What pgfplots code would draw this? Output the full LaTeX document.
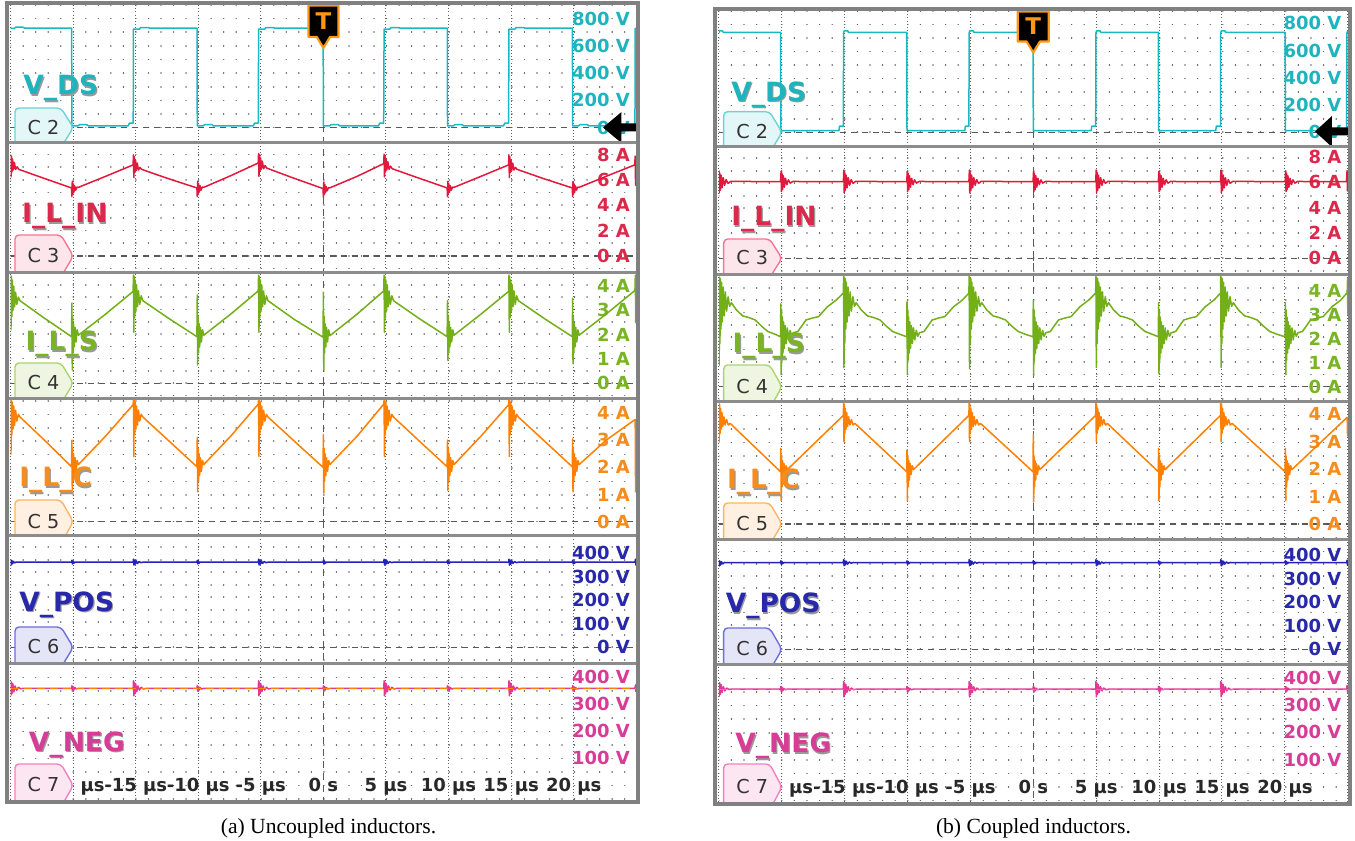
\documentclass[border=0pt]{standalone}
\usepackage{fontspec}
\setmainfont{Liberation Serif}
\newfontfamily\dv{DejaVu Sans}
\usepackage{pgfplots}
\pgfplotsset{compat=1.18}

\definecolor{c2}{RGB}{25,185,195}\definecolor{c2t}{RGB}{30,180,190}\definecolor{c2f}{RGB}{228,247,248}\definecolor{c2b}{RGB}{110,210,215}
\definecolor{c3}{RGB}{225,25,60}\definecolor{c3t}{RGB}{220,40,75}\definecolor{c3f}{RGB}{253,230,235}\definecolor{c3b}{RGB}{240,120,145}
\definecolor{c4}{RGB}{115,175,25}\definecolor{c4t}{RGB}{120,180,35}\definecolor{c4f}{RGB}{238,246,225}\definecolor{c4b}{RGB}{170,212,110}
\definecolor{c5}{RGB}{255,128,0}\definecolor{c5t}{RGB}{245,140,30}\definecolor{c5f}{RGB}{255,240,225}\definecolor{c5b}{RGB}{255,180,100}
\definecolor{c6}{RGB}{35,35,185}\definecolor{c6t}{RGB}{40,40,170}\definecolor{c6f}{RGB}{228,230,248}\definecolor{c6b}{RGB}{110,110,215}
\definecolor{c7}{RGB}{228,55,150}\definecolor{c7t}{RGB}{215,60,150}\definecolor{c7f}{RGB}{252,230,242}\definecolor{c7b}{RGB}{240,130,195}
\definecolor{tgold}{RGB}{255,150,20}\definecolor{xlab}{RGB}{40,40,40}

\newcommand\tickfont{\dv\bfseries\fontsize{9bp}{10bp}\selectfont}
\newcommand\namefont{\dv\bfseries\fontsize{13.25bp}{15bp}\selectfont}
\newcommand\badgefont{\dv\fontsize{9.6bp}{11bp}\selectfont}
\newcommand\capfont{\fontsize{10.8bp}{12bp}\selectfont}
\newcommand\tfont{\dv\bfseries\fontsize{11.5bp}{12bp}\selectfont}

\tikzset{
  dotA/.style={draw=black!60, line width=0.8bp, line cap=round, dash pattern=on 0.01pt off 6.256bp},
  dotB/.style={draw=black!60, line width=0.8bp, line cap=round, dash pattern=on 0.01pt off 6.29bp},
  vgrid/.style={draw=black!62, line width=0.5bp, dash pattern=on 0.5bp off 1.1bp},
  cgrid/.style={draw=black!65, line width=0.6bp, dash pattern=on 3.5bp off 2.5bp},
  zgrid/.style={draw=black!65, line width=0.6bp, dash pattern=on 3bp off 2.5bp},
}
\pgfplotsset{
  strip/.style={scale only axis, anchor=north west, xmin=-25, xmax=25,
    axis line style={draw=none}, major tick length=0pt, tick style={draw=none},
    xtick=\empty, scaled ticks=false, yticklabel pos=right,
    yticklabel style={font=\tickfont, anchor=east, inner sep=0pt, xshift=-3bp},
    clip=true, every axis plot/.append style={line width=0.75bp, line join=round}},
}
% grid rows of one strip: x0 x1 top bottom zero spacing style
\newcommand\gridstrip[7]{%
  \begin{scope}
    \clip (#1,#3) rectangle (#2,#4);
    \foreach \k in {-3,...,11}{\draw[#7] (#1,{#5-(\k)*#6}) -- (#2,{#5-(\k)*#6});}
    \draw[zgrid] (#1,#5) -- (#2,#5);
  \end{scope}}
\newcommand\chname[4]{%
  \node[anchor=base west, inner sep=0pt, font=\namefont, text=black!40] at (#1+1.2,#2+1.2) {#3};
  \node[anchor=base west, inner sep=0pt, font=\namefont, text=#4] at (#1,#2) {#3};}
\newcommand\badge[7]{% col fill xl ytop ytip ybot text
  \pgfmathsetmacro\bxr{#3+46}\pgfmathsetmacro\bxt{#3+58.3}%
  \pgfmathsetmacro\bxb{#3+58.3-12.3*(#6+1-#5)/(#5-#4)}%
  \filldraw[draw=#1, fill=#2, line width=0.7bp, rounded corners=2bp]
    (#3,#6+1) -- (#3,#4) -- (\bxr,#4) -- (\bxt,#5) -- (\bxb,#6+1);
  \node[font=\badgefont, text=black!80, inner sep=0pt] at (#3+28.5,#5-0.5) {#7};}

\begin{document}
\begin{tikzpicture}
\path[use as bounding box] (0,0) rectangle (677.5bp,-420.5bp);

% ---------------- background grids (pixel units) ----------------
\begin{scope}[x=0.5bp,y=-0.5bp]
  \gridstrip{10.6}{636.2}{5}{141.5}{127.7}{13.65}{dotA}
  \gridstrip{10.6}{636.2}{144.5}{271.5}{256}{12.7}{dotA}
  \gridstrip{10.6}{636.2}{274.5}{397.5}{383.3}{12.3}{dotA}
  \gridstrip{10.6}{636.2}{400.5}{534.5}{521.7}{13.4}{dotA}
  \gridstrip{10.6}{636.2}{537.5}{662.5}{647.3}{12.5}{dotA}
  \begin{scope}\clip (10.6,665.5) rectangle (636.2,800.5);
    \foreach \k in {-2,...,11}{\draw[dotA] (10.6,{785.5-(\k)*13.5}) -- (636.2,{785.5-(\k)*13.5});}
  \end{scope}
  \foreach \k in {0,1,2,3,4,6,7,8,9,10}{\draw[vgrid] ({10.6+\k*62.56},5) -- ({10.6+\k*62.56},800.5);}
  \draw[cgrid] (323.4,5) -- (323.4,800.5);
  \foreach \z in {127.7,256,383.3,521.7,647.3}{\draw[black!65, line width=0.6bp] (323.4,\z-3) -- (323.4,\z+3);}

  \gridstrip{718.8}{1347.8}{11}{145.5}{132.3}{13.45}{dotB}
  \gridstrip{718.8}{1347.8}{148.5}{273.5}{258.3}{12.5}{dotB}
  \gridstrip{718.8}{1347.8}{276.5}{400}{386.7}{12.35}{dotB}
  \gridstrip{718.8}{1347.8}{403}{538.5}{524}{13.55}{dotB}
  \gridstrip{718.8}{1347.8}{541.5}{663.5}{649.3}{12.2}{dotB}
  \begin{scope}\clip (718.8,666.5) rectangle (1347.8,802);
    \foreach \k in {-2,...,11}{\draw[dotB] (718.8,{787-(\k)*13.55}) -- (1347.8,{787-(\k)*13.55});}
  \end{scope}
  \foreach \k in {0,1,2,3,4,6,7,8,9,10}{\draw[vgrid] ({718.8+\k*62.9},11) -- ({718.8+\k*62.9},802);}
  \draw[cgrid] (1033.3,11) -- (1033.3,802);
  \foreach \z in {132.3,258.3,386.7,524,649.3}{\draw[black!65, line width=0.6bp] (1033.3,\z-3) -- (1033.3,\z+3);}
\end{scope}

% ================= PANEL A (uncoupled) =================
\begin{axis}[strip, at={(5.3bp,-2.5bp)}, width=312.8bp, height=68.25bp, ymin=-101.1, ymax=898.9,
  ytick={0,200,400,600,800}, yticklabels={0 V,200 V,400 V,600 V,800 V}, yticklabel style={text=c2t}]
\addplot[c2] coordinates {(-25,730) (-24.7,726) (-24.6,736) (-24.0,736) (-23.9,730) (-20.12,730) (-20.1,14) (-19.6,14) (-19.5,22) (-18.9,22) (-18.8,14) (-15.6,14) (-15.5,34) (-15.2,34) (-15.18,722) (-14.7,722) (-14.6,734) (-14.0,734) (-13.9,730) (-10.1,730) (-10.08,14) (-9.6,14) (-9.5,22) (-8.9,22) (-8.8,14) (-5.6,14) (-5.5,34) (-5.2,34) (-5.18,722) (-4.7,722) (-4.6,734) (-4.0,734) (-3.9,730) (-0.02,730) (0,14) (0.5,14) (0.6,22) (1.2,22) (1.3,14) (4.4,14) (4.5,34) (4.82,34) (4.85,722) (5.3,722) (5.4,734) (6.0,734) (6.1,730) (9.9,730) (9.92,14) (10.4,14) (10.5,22) (11.1,22) (11.2,14) (14.4,14) (14.5,34) (14.8,34) (14.83,722) (15.3,722) (15.4,734) (16.0,734) (16.1,730) (19.9,730) (19.92,14) (20.4,14) (20.5,22) (21.1,22) (21.2,14) (24.9,14) (24.92,728) (25,728)};
\end{axis}

\begin{axis}[strip, at={(5.3bp,-72.25bp)}, width=312.8bp, height=63.5bp, ymin=-1.225, ymax=8.814,
  ytick={0,2,4,6,8}, yticklabels={0 A,2 A,4 A,6 A,8 A}, yticklabel style={text=c3t}]
\addplot[c3] coordinates {(-25,8.0) (-24.97,6.25) (-24.93,7.9) (-24.89,6.65) (-24.84,7.65) (-24.78,6.8) (-24.7,7.4) (-24.6,6.85) (-24.48,7.05) (-24.35,6.85) (-22.5,6.2) (-20.13,5.38)
(-20.1,4.7) (-20.07,5.9) (-20.03,4.9) (-19.99,5.7) (-19.94,5.05) (-19.88,5.55) (-19.8,5.2) (-19.7,5.45) (-19.6,5.42) (-17.4,6.3) (-15.21,7.2)
(-15.18,8.0) (-15.15,6.2) (-15.11,7.85) (-15.07,6.6) (-15.02,7.6) (-14.96,6.75) (-14.88,7.35) (-14.78,6.8) (-14.66,7.0) (-14.53,6.85) (-12.5,6.15) (-10.11,5.38)
(-10.08,4.7) (-10.05,5.9) (-10.01,4.9) (-9.97,5.7) (-9.92,5.05) (-9.86,5.55) (-9.78,5.2) (-9.68,5.45) (-9.58,5.42) (-7.4,6.35) (-5.21,7.35)
(-5.18,8.1) (-5.15,6.3) (-5.11,8.0) (-5.07,6.7) (-5.02,7.75) (-4.96,6.85) (-4.88,7.5) (-4.78,6.9) (-4.66,7.15) (-4.53,6.95) (-2.5,6.2) (-0.03,5.33)
(0,4.65) (0.03,5.85) (0.07,4.85) (0.11,5.65) (0.16,5.0) (0.22,5.5) (0.3,5.15) (0.4,5.4) (0.5,5.38) (2.7,6.3) (4.82,7.3)
(4.85,8.05) (4.88,6.25) (4.92,7.95) (4.96,6.65) (5.01,7.7) (5.07,6.8) (5.15,7.45) (5.25,6.85) (5.37,7.1) (5.5,6.9) (7.5,6.2) (9.89,5.38)
(9.92,4.7) (9.95,5.9) (9.99,4.9) (10.03,5.7) (10.08,5.05) (10.14,5.55) (10.22,5.2) (10.32,5.45) (10.42,5.42) (12.6,6.3) (14.8,7.2)
(14.83,8.0) (14.86,6.2) (14.9,7.85) (14.94,6.6) (14.99,7.6) (15.05,6.75) (15.13,7.35) (15.23,6.8) (15.35,7.0) (15.48,6.85) (17.5,6.15) (19.89,5.38)
(19.92,4.7) (19.95,5.9) (19.99,4.9) (20.03,5.7) (20.08,5.05) (20.14,5.55) (20.22,5.2) (20.32,5.45) (20.42,5.42) (22.6,6.3) (24.88,7.2) (24.92,7.9) (24.95,5.6) (25,6.6)};
\end{axis}

\begin{axis}[strip, at={(5.3bp,-137.25bp)}, width=312.8bp, height=61.5bp, ymin=-0.584, ymax=4.477,
  ytick={0,1,2,3,4}, yticklabels={0 A,1 A,2 A,3 A,4 A}, yticklabel style={text=c4t}]
\addplot[c4] coordinates {(-25,4.45) (-24.97,2.2) (-24.94,4.4) (-24.9,2.75) (-24.86,4.25) (-24.81,3.0) (-24.75,4.0) (-24.68,3.15) (-24.6,3.75) (-24.5,3.25) (-24.38,3.55) (-24.25,3.4) (-22.3,2.68) (-20.13,1.92)
(-20.1,3.3) (-20.07,0.55) (-20.04,2.75) (-20.0,1.25) (-19.96,2.45) (-19.91,1.5) (-19.85,2.3) (-19.77,1.7) (-19.68,2.2) (-19.58,1.98) (-17.4,2.85) (-15.21,3.78)
(-15.18,4.45) (-15.15,2.1) (-15.12,4.4) (-15.08,2.7) (-15.04,4.25) (-14.99,2.95) (-14.93,4.05) (-14.86,3.15) (-14.78,3.8) (-14.68,3.25) (-14.56,3.6) (-14.43,3.4) (-12.3,2.65) (-10.11,1.92)
(-10.08,3.64) (-10.05,0.75) (-10.02,2.75) (-9.98,1.25) (-9.94,2.45) (-9.89,1.5) (-9.83,2.3) (-9.75,1.7) (-9.66,2.2) (-9.56,1.98) (-7.4,2.85) (-5.21,3.8)
(-5.18,4.45) (-5.15,2.1) (-5.12,4.4) (-5.08,2.7) (-5.04,4.25) (-4.99,2.95) (-4.93,4.05) (-4.86,3.15) (-4.78,3.8) (-4.68,3.25) (-4.56,3.6) (-4.43,3.4) (-2.3,2.62) (-0.03,1.9)
(0,3.75) (0.03,0.55) (0.06,2.75) (0.1,1.25) (0.14,2.45) (0.19,1.5) (0.25,2.3) (0.33,1.7) (0.42,2.2) (0.52,1.96) (2.7,2.85) (4.82,3.8)
(4.85,4.45) (4.88,2.1) (4.91,4.4) (4.95,2.7) (4.99,4.25) (5.04,2.95) (5.1,4.05) (5.17,3.15) (5.25,3.8) (5.35,3.25) (5.47,3.6) (5.6,3.4) (7.7,2.65) (9.89,1.92)
(9.92,3.4) (9.95,0.95) (9.98,2.75) (10.02,1.25) (10.06,2.45) (10.11,1.5) (10.17,2.3) (10.25,1.7) (10.34,2.2) (10.44,1.98) (12.6,2.85) (14.8,3.78)
(14.83,4.45) (14.86,2.1) (14.89,4.4) (14.93,2.7) (14.97,4.25) (15.02,2.95) (15.08,4.05) (15.15,3.15) (15.23,3.8) (15.33,3.25) (15.45,3.6) (15.58,3.4) (17.7,2.65) (19.89,1.92)
(19.92,3.5) (19.95,0.8) (19.98,2.75) (20.02,1.25) (20.06,2.45) (20.11,1.5) (20.17,2.3) (20.25,1.7) (20.34,2.2) (20.44,1.98) (22.6,2.85) (24.9,3.82) (24.93,4.45) (24.96,2.5) (25,3.9)};
\end{axis}

\begin{axis}[strip, at={(5.3bp,-200.25bp)}, width=312.8bp, height=67bp, ymin=-0.471, ymax=4.456,
  ytick={0,1,2,3,4}, yticklabels={0 A,1 A,2 A,3 A,4 A}, yticklabel style={text=c5t}]
\addplot[c5] coordinates {(-25,4.47) (-24.97,2.5) (-24.94,4.45) (-24.9,3.2) (-24.86,4.4) (-24.81,3.4) (-24.75,4.25) (-24.68,3.55) (-24.6,4.1) (-24.5,3.7) (-24.38,3.95) (-24.25,3.85) (-22.3,3.0) (-20.13,2.02)
(-20.1,3.0) (-20.07,1.15) (-20.04,2.7) (-20.0,1.5) (-19.96,2.5) (-19.91,1.7) (-19.85,2.35) (-19.77,1.85) (-19.68,2.25) (-19.58,2.1) (-17.4,3.15) (-15.21,4.3)
(-15.18,4.47) (-15.15,2.4) (-15.12,4.45) (-15.08,3.2) (-15.04,4.4) (-14.99,3.4) (-14.93,4.25) (-14.86,3.55) (-14.78,4.1) (-14.68,3.7) (-14.56,3.95) (-14.43,3.85) (-12.3,2.95) (-10.11,2.02)
(-10.08,3.1) (-10.05,1.1) (-10.02,2.7) (-9.98,1.5) (-9.94,2.5) (-9.89,1.7) (-9.83,2.35) (-9.75,1.85) (-9.66,2.25) (-9.56,2.1) (-7.4,3.15) (-5.21,4.32)
(-5.18,4.47) (-5.15,2.4) (-5.12,4.45) (-5.08,3.2) (-5.04,4.4) (-4.99,3.4) (-4.93,4.25) (-4.86,3.55) (-4.78,4.1) (-4.68,3.7) (-4.56,3.95) (-4.43,3.85) (-2.3,2.95) (-0.03,2.0)
(0,3.2) (0.03,1.05) (0.06,2.7) (0.1,1.5) (0.14,2.5) (0.19,1.7) (0.25,2.35) (0.33,1.85) (0.42,2.25) (0.52,2.1) (2.7,3.15) (4.82,4.32)
(4.85,4.47) (4.88,2.4) (4.91,4.45) (4.95,3.2) (4.99,4.4) (5.04,3.4) (5.1,4.25) (5.17,3.55) (5.25,4.1) (5.35,3.7) (5.47,3.95) (5.6,3.85) (7.7,2.95) (9.89,2.02)
(9.92,3.0) (9.95,1.15) (9.98,2.7) (10.02,1.5) (10.06,2.5) (10.11,1.7) (10.17,2.35) (10.25,1.85) (10.34,2.25) (10.44,2.1) (12.6,3.15) (14.8,4.3)
(14.83,4.47) (14.86,2.4) (14.89,4.45) (14.93,3.2) (14.97,4.4) (15.02,3.4) (15.08,4.25) (15.15,3.55) (15.23,4.1) (15.33,3.7) (15.45,3.95) (15.58,3.85) (17.7,2.95) (19.89,2.02)
(19.92,3.05) (19.95,1.1) (19.98,2.7) (20.02,1.5) (20.06,2.5) (20.11,1.7) (20.17,2.35) (20.25,1.85) (20.34,2.25) (20.44,2.1) (22.6,3.0) (24.92,3.76) (24.95,1.1) (24.98,3.5) (25,3.7)};
\end{axis}

\begin{axis}[strip, at={(5.3bp,-268.75bp)}, width=312.8bp, height=62.5bp, ymin=-64.7, ymax=467.2,
  ytick={0,100,200,300,400}, yticklabels={0 V,100 V,200 V,300 V,400 V}, yticklabel style={text=c6t}]
\addplot[c6] coordinates {(-25,372) (-24.96,350) (-24.91,370) (-24.85,355) (-24.78,366) (-24.68,359) (-24.55,363) (-24.4,362) (-20.12,362)
(-20.1,370) (-20.06,355) (-20.01,367) (-19.95,358) (-19.85,363) (-19.7,362) (-15.2,362)
(-15.18,375) (-15.14,350) (-15.09,371) (-15.03,354) (-14.96,368) (-14.86,357) (-14.73,365) (-14.58,360) (-14.4,363) (-14.2,362) (-10.1,362)
(-10.08,370) (-10.04,355) (-9.99,367) (-9.93,358) (-9.83,363) (-9.68,362) (-5.2,362)
(-5.18,375) (-5.14,350) (-5.09,371) (-5.03,354) (-4.96,368) (-4.86,357) (-4.73,365) (-4.58,360) (-4.4,363) (-4.2,362) (-0.02,362)
(0,371) (0.04,354) (0.09,367) (0.15,358) (0.25,363) (0.4,362) (4.83,362)
(4.85,375) (4.89,350) (4.94,371) (5.0,354) (5.07,368) (5.17,357) (5.3,365) (5.45,360) (5.63,363) (5.83,362) (9.9,362)
(9.92,370) (9.96,355) (10.01,367) (10.07,358) (10.17,363) (10.32,362) (14.81,362)
(14.83,375) (14.87,350) (14.92,371) (14.98,354) (15.05,368) (15.15,357) (15.28,365) (15.43,360) (15.61,363) (15.81,362) (19.9,362)
(19.92,370) (19.96,355) (20.01,367) (20.07,358) (20.17,363) (20.32,362) (24.9,362) (24.95,375) (24.98,350) (25,366)};
\end{axis}

\begin{axis}[strip, at={(5.3bp,-332.75bp)}, width=312.8bp, height=67.5bp, ymin=-55.1, ymax=441.2,
  ytick={100,200,300,400}, yticklabels={100 V,200 V,300 V,400 V}, yticklabel style={text=c7t},
  xtick={-20,-15,-10,-5,0,5,10,15,20},
  xticklabels={\phantom{-20 }μs,-15 μs,-10 μs,-5 μs,0 s,5 μs,10 μs,15 μs,20 μs},
  xticklabel style={font=\tickfont, text=xlab, anchor=base, inner sep=0pt, yshift=4.7bp}]
\addplot[c7] coordinates {(-25,384) (-24.97,332) (-24.93,380) (-24.88,338) (-24.82,374) (-24.74,344) (-24.64,366) (-24.52,350) (-24.38,361) (-24.2,356) (-24.0,357) (-20.12,357)
(-20.1,367) (-20.06,347) (-20.01,364) (-19.95,351) (-19.87,360) (-19.75,355) (-19.6,357) (-15.2,357)
(-15.18,385) (-15.15,330) (-15.11,380) (-15.06,338) (-15.0,374) (-14.92,345) (-14.82,366) (-14.7,351) (-14.56,361) (-14.38,355) (-14.18,357) (-10.1,357)
(-10.08,367) (-10.04,347) (-9.99,364) (-9.93,351) (-9.85,360) (-9.73,355) (-9.58,357) (-5.2,357)
(-5.18,385) (-5.15,330) (-5.11,380) (-5.06,338) (-5.0,374) (-4.92,345) (-4.82,366) (-4.7,351) (-4.56,361) (-4.38,355) (-4.18,357) (-0.02,357)
(0,367) (0.04,347) (0.09,364) (0.15,351) (0.23,360) (0.35,355) (0.5,357) (4.83,357)
(4.85,385) (4.88,330) (4.92,380) (4.97,338) (5.03,374) (5.11,345) (5.21,366) (5.33,351) (5.47,361) (5.65,355) (5.85,357) (9.9,357)
(9.92,367) (9.96,347) (10.01,364) (10.07,351) (10.15,360) (10.27,355) (10.42,357) (14.81,357)
(14.83,385) (14.86,330) (14.9,380) (14.95,338) (15.01,374) (15.09,345) (15.19,366) (15.31,351) (15.45,361) (15.63,355) (15.83,357) (19.9,357)
(19.92,367) (19.96,347) (20.01,364) (20.07,351) (20.15,360) (20.27,355) (20.42,357) (24.9,357) (24.95,370) (24.98,345) (25,360)};
\addplot[c5, line width=0.6bp, dash pattern=on 4bp off 2.5bp] coordinates {(-25,357) (25,357)};
\end{axis}

% ================= PANEL B (coupled) =================
\begin{axis}[strip, at={(359.4bp,-5.5bp)}, width=314.5bp, height=67.25bp, ymin=-96.9, ymax=890.3,
  ytick={0,200,400,600,800}, yticklabels={0 V,200 V,400 V,600 V,800 V}, yticklabel style={text=c2t}]
\addplot[c2] coordinates {(-25,728) (-24.95,744) (-24.7,744) (-24.65,734) (-20.09,734) (-20.07,12) (-15.45,12) (-15.4,45) (-15.1,45) (-15.08,730) (-15.03,745) (-14.75,745) (-14.7,734) (-10.06,734) (-10.04,12) (-5.45,12) (-5.4,45) (-5.12,45) (-5.1,730) (-5.05,745) (-4.77,745) (-4.72,734) (-0.02,734) (0,12) (4.6,12) (4.65,45) (4.96,45) (4.98,730) (5.03,745) (5.31,745) (5.36,734) (9.94,734) (9.96,12) (14.5,12) (14.55,45) (14.88,45) (14.9,730) (14.95,745) (15.23,745) (15.28,734) (20.02,734) (20.04,12) (24.9,12) (24.93,730) (25,745)};
\end{axis}

\begin{axis}[strip, at={(359.4bp,-74.25bp)}, width=314.5bp, height=62.5bp, ymin=-1.197, ymax=8.646,
  ytick={0,2,4,6,8}, yticklabels={0 A,2 A,4 A,6 A,8 A}, yticklabel style={text=c3t}]
\addplot[c3] coordinates {(-25,6.9) (-24.97,5.15) (-24.93,6.75) (-24.88,5.35) (-24.82,6.55) (-24.74,5.55) (-24.65,6.35) (-24.54,5.75) (-24.42,6.2) (-24.27,5.9) (-24.05,6.06) (-20.09,6.03)
(-20.05,6.85) (-20.02,5.25) (-19.98,6.7) (-19.93,5.4) (-19.87,6.5) (-19.79,5.6) (-19.7,6.3) (-19.59,5.8) (-19.47,6.18) (-19.32,5.92) (-19.12,6.05) (-15.1,6.03)
(-15.06,6.95) (-15.03,5.15) (-14.99,6.75) (-14.94,5.35) (-14.88,6.55) (-14.8,5.55) (-14.71,6.35) (-14.6,5.75) (-14.48,6.2) (-14.33,5.9) (-14.13,6.06) (-10.06,6.03)
(-10.02,6.85) (-9.99,5.25) (-9.95,6.7) (-9.9,5.4) (-9.84,6.5) (-9.76,5.6) (-9.67,6.3) (-9.56,5.8) (-9.44,6.18) (-9.29,5.92) (-9.09,6.05) (-5.12,6.03)
(-5.08,6.95) (-5.05,5.15) (-5.01,6.75) (-4.96,5.35) (-4.9,6.55) (-4.82,5.55) (-4.73,6.35) (-4.62,5.75) (-4.5,6.2) (-4.35,5.9) (-4.15,6.06) (-0.02,6.03)
(0.02,6.85) (0.05,5.25) (0.09,6.7) (0.14,5.4) (0.2,6.5) (0.28,5.6) (0.37,6.3) (0.48,5.8) (0.6,6.18) (0.75,5.92) (0.95,6.05) (4.96,6.03)
(5.0,6.95) (5.03,5.15) (5.07,6.75) (5.12,5.35) (5.18,6.55) (5.26,5.55) (5.35,6.35) (5.46,5.75) (5.58,6.2) (5.73,5.9) (5.93,6.06) (9.94,6.03)
(9.98,6.85) (10.01,5.25) (10.05,6.7) (10.1,5.4) (10.16,6.5) (10.24,5.6) (10.33,6.3) (10.44,5.8) (10.56,6.18) (10.71,5.92) (10.91,6.05) (14.88,6.03)
(14.92,6.95) (14.95,5.15) (14.99,6.75) (15.04,5.35) (15.1,6.55) (15.18,5.55) (15.27,6.35) (15.38,5.75) (15.5,6.2) (15.65,5.9) (15.85,6.06) (20.02,6.03)
(20.06,6.85) (20.09,5.25) (20.13,6.7) (20.18,5.4) (20.24,6.5) (20.32,5.6) (20.41,6.3) (20.52,5.8) (20.64,6.18) (20.79,5.92) (20.99,6.05) (24.9,6.03) (24.94,6.9) (24.97,5.3) (25,6.5)};
\end{axis}

\begin{axis}[strip, at={(359.4bp,-138.25bp)}, width=314.5bp, height=61.75bp, ymin=-0.554, ymax=4.592,
  ytick={0,1,2,3,4}, yticklabels={0 A,1 A,2 A,3 A,4 A}, yticklabel style={text=c4t}]
\addplot[c4] coordinates {(-25,4.6) (-24.97,0.9) (-24.94,4.55) (-24.91,1.8) (-24.87,4.5) (-24.83,2.4) (-24.78,4.35) (-24.72,2.7) (-24.65,4.15) (-24.57,2.95) (-24.48,3.95) (-24.38,3.15) (-24.26,3.75) (-24.14,3.35) (-24.0,3.5) (-23.6,3.2) (-23.1,2.95) (-22.6,2.88) (-22.1,2.78) (-21.6,2.52) (-21.1,2.3) (-20.5,2.18) (-20.09,2.08)
(-20.07,3.45) (-20.04,0.5) (-20.01,3.2) (-19.98,1.1) (-19.94,2.9) (-19.9,1.4) (-19.85,2.7) (-19.79,1.6) (-19.72,2.55) (-19.64,1.8) (-19.55,2.45) (-19.45,1.95) (-19.33,2.35) (-19.21,2.1) (-19.07,2.25) (-18.72,2.3) (-18.07,2.78) (-17.57,2.86) (-17.07,2.92) (-16.37,3.33) (-15.67,3.61) (-15.1,3.9)
(-15.08,4.6) (-15.05,0.8) (-15.02,4.55) (-14.99,1.8) (-14.95,4.5) (-14.91,2.4) (-14.86,4.35) (-14.8,2.7) (-14.73,4.15) (-14.65,2.95) (-14.56,3.95) (-14.46,3.15) (-14.34,3.75) (-14.22,3.35) (-14.08,3.5) (-13.68,3.2) (-13.18,2.95) (-12.68,2.88) (-12.18,2.78) (-11.68,2.52) (-11.18,2.3) (-10.58,2.18) (-10.06,2.08)
(-10.04,3.55) (-10.01,0.5) (-9.98,3.2) (-9.95,1.1) (-9.91,2.9) (-9.87,1.4) (-9.82,2.7) (-9.76,1.6) (-9.69,2.55) (-9.61,1.8) (-9.52,2.45) (-9.42,1.95) (-9.3,2.35) (-9.18,2.1) (-9.04,2.25) (-8.69,2.3) (-8.04,2.78) (-7.54,2.86) (-7.04,2.92) (-6.34,3.33) (-5.64,3.61) (-5.12,3.9)
(-5.1,4.6) (-5.07,0.75) (-5.04,4.55) (-5.01,1.8) (-4.97,4.5) (-4.93,2.4) (-4.88,4.35) (-4.82,2.7) (-4.75,4.15) (-4.67,2.95) (-4.58,3.95) (-4.48,3.15) (-4.36,3.75) (-4.24,3.35) (-4.1,3.5) (-3.7,3.2) (-3.2,2.95) (-2.7,2.88) (-2.2,2.78) (-1.7,2.52) (-1.2,2.3) (-0.6,2.18) (-0.02,2.08)
(0,3.6) (0.03,0.45) (0.06,3.2) (0.09,1.1) (0.13,2.9) (0.17,1.4) (0.22,2.7) (0.28,1.6) (0.35,2.55) (0.43,1.8) (0.52,2.45) (0.62,1.95) (0.74,2.35) (0.86,2.1) (1.0,2.25) (1.35,2.3) (2.0,2.78) (2.5,2.86) (3.0,2.92) (3.7,3.33) (4.4,3.61) (4.96,3.9)
(4.98,4.6) (5.01,0.8) (5.04,4.55) (5.07,1.8) (5.11,4.5) (5.15,2.4) (5.2,4.35) (5.26,2.7) (5.33,4.15) (5.41,2.95) (5.5,3.95) (5.6,3.15) (5.72,3.75) (5.84,3.35) (5.98,3.5) (6.38,3.2) (6.88,2.95) (7.38,2.88) (7.88,2.78) (8.38,2.52) (8.88,2.3) (9.48,2.18) (9.94,2.08)
(9.96,3.5) (9.99,0.55) (10.02,3.2) (10.05,1.1) (10.09,2.9) (10.13,1.4) (10.18,2.7) (10.24,1.6) (10.31,2.55) (10.39,1.8) (10.48,2.45) (10.58,1.95) (10.7,2.35) (10.82,2.1) (10.96,2.25) (11.31,2.3) (11.96,2.78) (12.46,2.86) (12.96,2.92) (13.66,3.33) (14.36,3.61) (14.88,3.9)
(14.9,4.6) (14.93,0.8) (14.96,4.55) (14.99,1.8) (15.03,4.5) (15.07,2.4) (15.12,4.35) (15.18,2.7) (15.25,4.15) (15.33,2.95) (15.42,3.95) (15.52,3.15) (15.64,3.75) (15.76,3.35) (15.9,3.5) (16.3,3.2) (16.8,2.95) (17.3,2.88) (17.8,2.78) (18.3,2.52) (18.8,2.3) (19.4,2.18) (20.02,2.08)
(20.04,3.5) (20.07,0.5) (20.1,3.2) (20.13,1.1) (20.17,2.9) (20.21,1.4) (20.26,2.7) (20.32,1.6) (20.39,2.55) (20.47,1.8) (20.56,2.45) (20.66,1.95) (20.78,2.35) (20.9,2.1) (21.04,2.25) (21.39,2.3) (22.04,2.78) (22.54,2.86) (23.04,2.92) (23.74,3.33) (24.44,3.61) (24.95,3.92) (24.98,4.5) (25,3.0)};
\end{axis}

\begin{axis}[strip, at={(359.4bp,-201.5bp)}, width=314.5bp, height=67.75bp, ymin=-0.527, ymax=4.4,
  ytick={0,1,2,3,4}, yticklabels={0 A,1 A,2 A,3 A,4 A}, yticklabel style={text=c5t}]
\addplot[c5] coordinates {(-25,4.4) (-24.97,3.0) (-24.94,4.35) (-24.9,3.3) (-24.86,4.2) (-24.81,3.45) (-24.75,4.05) (-24.68,3.55) (-24.6,3.9) (-24.5,3.6) (-24.38,3.8) (-24.25,3.6) (-24.1,3.66) (-20.09,1.9)
(-20.07,2.75) (-20.04,0.85) (-20.01,2.45) (-19.97,1.35) (-19.93,2.3) (-19.88,1.6) (-19.82,2.2) (-19.74,1.8) (-19.65,2.12) (-19.55,1.98) (-15.1,3.95)
(-15.08,4.4) (-15.05,3.0) (-15.02,4.35) (-14.98,3.3) (-14.94,4.2) (-14.89,3.45) (-14.83,4.05) (-14.76,3.55) (-14.68,3.9) (-14.58,3.6) (-14.46,3.8) (-14.33,3.6) (-14.18,3.66) (-10.06,1.9)
(-10.04,2.7) (-10.01,0.85) (-9.98,2.45) (-9.94,1.35) (-9.9,2.3) (-9.85,1.6) (-9.79,2.2) (-9.71,1.8) (-9.62,2.12) (-9.52,1.98) (-5.12,3.95)
(-5.1,4.4) (-5.07,3.0) (-5.04,4.35) (-5.0,3.3) (-4.96,4.2) (-4.91,3.45) (-4.85,4.05) (-4.78,3.55) (-4.7,3.9) (-4.6,3.6) (-4.48,3.8) (-4.35,3.6) (-4.2,3.66) (-0.02,1.9)
(0,3.25) (0.03,0.8) (0.06,2.45) (0.1,1.35) (0.14,2.3) (0.19,1.6) (0.25,2.2) (0.33,1.8) (0.42,2.12) (0.52,1.98) (4.96,3.95)
(4.98,4.4) (5.01,3.0) (5.04,4.35) (5.08,3.3) (5.12,4.2) (5.17,3.45) (5.23,4.05) (5.3,3.55) (5.38,3.9) (5.48,3.6) (5.6,3.8) (5.73,3.6) (5.88,3.66) (9.94,1.9)
(9.96,2.75) (9.99,0.85) (10.02,2.45) (10.06,1.35) (10.1,2.3) (10.15,1.6) (10.21,2.2) (10.29,1.8) (10.38,2.12) (10.48,1.98) (14.88,3.95)
(14.9,4.4) (14.93,3.0) (14.96,4.35) (15.0,3.3) (15.04,4.2) (15.09,3.45) (15.15,4.05) (15.22,3.55) (15.3,3.9) (15.4,3.6) (15.52,3.8) (15.65,3.6) (15.8,3.66) (20.02,1.9)
(20.04,2.75) (20.07,0.85) (20.1,2.45) (20.14,1.35) (20.18,2.3) (20.23,1.6) (20.29,2.2) (20.37,1.8) (20.46,2.12) (20.56,1.98) (24.95,3.88) (24.98,3.2) (25,3.9)};
\end{axis}

\begin{axis}[strip, at={(359.4bp,-270.75bp)}, width=314.5bp, height=61bp, ymin=-60.2, ymax=456.8,
  ytick={0,100,200,300,400}, yticklabels={0 V,100 V,200 V,300 V,400 V}, yticklabel style={text=c6t}]
\addplot[c6] coordinates {(-25,378) (-24.96,353) (-24.91,374) (-24.85,357) (-24.78,371) (-24.68,362) (-24.55,368) (-24.4,367) (-20.09,367)
(-20.07,375) (-20.03,360) (-19.98,372) (-19.92,363) (-19.82,368) (-19.67,367) (-15.1,367)
(-15.08,380) (-15.04,354) (-14.99,376) (-14.93,358) (-14.86,373) (-14.76,361) (-14.63,370) (-14.48,365) (-14.3,368) (-14.1,367) (-10.06,367)
(-10.04,375) (-10.0,360) (-9.95,372) (-9.89,363) (-9.79,368) (-9.64,367) (-5.12,367)
(-5.1,380) (-5.06,354) (-5.01,376) (-4.95,358) (-4.88,373) (-4.78,361) (-4.65,370) (-4.5,365) (-4.32,368) (-4.12,367) (-0.02,367)
(0,376) (0.04,360) (0.09,372) (0.15,363) (0.25,368) (0.4,367) (4.96,367)
(4.98,380) (5.02,354) (5.07,376) (5.13,358) (5.2,373) (5.3,361) (5.43,370) (5.58,365) (5.76,368) (5.96,367) (9.94,367)
(9.96,375) (10.0,360) (10.05,372) (10.11,363) (10.21,368) (10.36,367) (14.88,367)
(14.9,380) (14.94,354) (14.99,376) (15.05,358) (15.12,373) (15.22,361) (15.35,370) (15.5,365) (15.68,368) (15.88,367) (20.02,367)
(20.04,375) (20.08,360) (20.13,372) (20.19,363) (20.29,368) (20.44,367) (24.9,367) (24.95,378) (24.98,356) (25,370)};
\end{axis}

\begin{axis}[strip, at={(359.4bp,-333.25bp)}, width=314.5bp, height=67.75bp, ymin=-54.9, ymax=440.9,
  ytick={100,200,300,400}, yticklabels={100 V,200 V,300 V,400 V}, yticklabel style={text=c7t},
  xtick={-20,-15,-10,-5,0,5,10,15,20},
  xticklabels={\phantom{-20 }μs,-15 μs,-10 μs,-5 μs,0 s,5 μs,10 μs,15 μs,20 μs},
  xticklabel style={font=\tickfont, text=xlab, anchor=base, inner sep=0pt, yshift=4.4bp}]
\addplot[c7] coordinates {(-25,385) (-24.97,332) (-24.93,381) (-24.88,339) (-24.82,375) (-24.74,346) (-24.64,367) (-24.52,352) (-24.38,362) (-24.2,357) (-24.0,358) (-20.09,358)
(-20.07,368) (-20.03,348) (-19.98,365) (-19.92,352) (-19.84,361) (-19.72,356) (-19.57,358) (-15.1,358)
(-15.08,386) (-15.05,330) (-15.01,381) (-14.96,339) (-14.9,375) (-14.82,346) (-14.72,367) (-14.6,352) (-14.46,362) (-14.28,356) (-14.08,358) (-10.06,358)
(-10.04,368) (-10.0,348) (-9.95,365) (-9.89,352) (-9.81,361) (-9.69,356) (-9.54,358) (-5.12,358)
(-5.1,386) (-5.07,330) (-5.03,381) (-4.98,339) (-4.92,375) (-4.84,346) (-4.74,367) (-4.62,352) (-4.48,362) (-4.3,356) (-4.1,358) (-0.02,358)
(0,368) (0.04,348) (0.09,365) (0.15,352) (0.23,361) (0.35,356) (0.5,358) (4.96,358)
(4.98,386) (5.01,330) (5.05,381) (5.1,339) (5.16,375) (5.24,346) (5.34,367) (5.46,352) (5.6,362) (5.78,356) (5.98,358) (9.94,358)
(9.96,368) (10.0,348) (10.05,365) (10.11,352) (10.19,361) (10.31,356) (10.46,358) (14.88,358)
(14.9,386) (14.93,330) (14.97,381) (15.02,339) (15.08,375) (15.16,346) (15.26,367) (15.38,352) (15.52,362) (15.7,356) (15.9,358) (20.02,358)
(20.04,368) (20.08,348) (20.13,365) (20.19,352) (20.27,361) (20.39,356) (20.54,358) (24.9,358) (24.95,372) (24.98,346) (25,362)};
\addplot[c5, line width=0.6bp, dash pattern=on 4bp off 2.5bp] coordinates {(-25,358) (25,358)};
\end{axis}

% ---------------- overlays (pixel units) ----------------
\begin{scope}[x=0.5bp,y=-0.5bp]
  % channel names
  \chname{23}{95}{V\_DS}{c2t}
  \chname{21.8}{223}{I\_L\_IN}{c3t}
  \chname{25.2}{351}{I\_L\_S}{c4t}
  \chname{18.9}{487}{I\_L\_C}{c5t}
  \chname{18.9}{611.7}{V\_POS}{c6t}
  \chname{28.6}{751.7}{V\_NEG}{c7t}
  \chname{730.9}{101.7}{V\_DS}{c2t}
  \chname{730.9}{226}{I\_L\_IN}{c3t}
  \chname{732.2}{353}{I\_L\_S}{c4t}
  \chname{726.7}{489}{I\_L\_C}{c5t}
  \chname{725.4}{613}{V\_POS}{c6t}
  \chname{735.1}{753}{V\_NEG}{c7t}
  % badges
  \badge{c2b}{c2f}{15}{108}{127.7}{141.5}{C 2}
  \badge{c3b}{c3f}{15}{235}{256}{271.5}{C 3}
  \badge{c4b}{c4f}{15}{363}{383.3}{397.5}{C 4}
  \badge{c5b}{c5f}{15}{500}{521.7}{534.5}{C 5}
  \badge{c6b}{c6f}{15}{627}{647.3}{662.5}{C 6}
  \badge{c7b}{c7f}{15}{764}{785.5}{800.5}{C 7}
  \badge{c2b}{c2f}{723.7}{111.7}{132.3}{145.5}{C 2}
  \badge{c3b}{c3f}{723.7}{239}{258.3}{273.5}{C 3}
  \badge{c4b}{c4f}{723.7}{365}{386.7}{400}{C 4}
  \badge{c5b}{c5f}{723.7}{503}{524}{538.5}{C 5}
  \badge{c6b}{c6f}{723.7}{628}{649.3}{663.5}{C 6}
  \badge{c7b}{c7f}{723.7}{764}{787}{802}{C 7}
  % trigger markers
  \filldraw[fill=black, draw=tgold, line width=1.1bp, line join=round]
    (308.5,5.5) -- (338.5,5.5) -- (338.5,37) -- (330,37) -- (323.4,48) -- (316.8,37) -- (308.5,37) -- cycle;
  \node[font=\tfont, text=tgold, inner sep=0pt] at (323.5,21.5) {T};
  \filldraw[fill=black, draw=tgold, line width=1.1bp, line join=round]
    (1017.8,11.5) -- (1048.8,11.5) -- (1048.8,41.5) -- (1040,41.5) -- (1033.3,52.5) -- (1026.6,41.5) -- (1017.8,41.5) -- cycle;
  \node[font=\tfont, text=tgold, inner sep=0pt] at (1033.3,26.5) {T};
  % ground arrows
  \fill[black] (603,127.5) -- (621.5,112) -- (621.5,123.5) -- (637,123.5) -- (637,131.5) -- (621.5,131.5) -- (621.5,143) -- cycle;
  \fill[black] (1315,131.5) -- (1332,116) -- (1332,127.5) -- (1348,127.5) -- (1348,135.5) -- (1332,135.5) -- (1332,147) -- cycle;
  % separators
  \foreach \y in {143,273,399,536,664}{\draw[black!45, line width=1.5bp] (9.5,\y) -- (637,\y);}
  \foreach \y in {147,275,401.5,540,665}{\draw[black!45, line width=1.5bp] (717,\y) -- (1348.5,\y);}
  % frames
  \draw[black!50, line width=2bp] (7.5,3.3) rectangle (638.4,802.5);
  \draw[black!50, line width=2bp] (715,9) rectangle (1350,804);
  % captions
  \node[font=\capfont, anchor=base, inner sep=0pt] at (328.5,833.5) {(a) Uncoupled inductors.};
  \node[font=\capfont, anchor=base, inner sep=0pt] at (1033.5,833.5) {(b) Coupled inductors.};
\end{scope}
\end{tikzpicture}
\end{document}
